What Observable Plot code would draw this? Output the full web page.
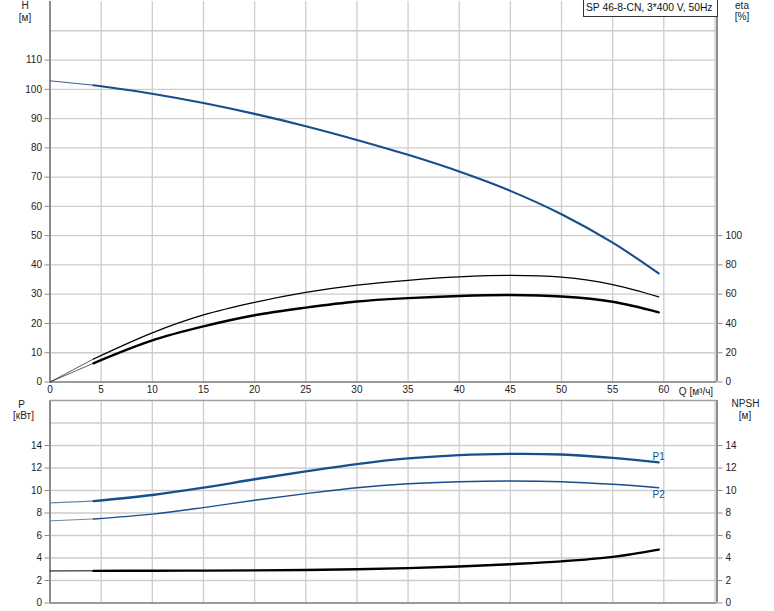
<!DOCTYPE html>
<html><head><meta charset="utf-8">
<script src="https://cdn.jsdelivr.net/npm/d3@7"></script>
<script src="https://cdn.jsdelivr.net/npm/@observablehq/plot@0.6"></script>
<style>
body{margin:0;background:#fff;font-family:"Liberation Sans",Arial,sans-serif;}
#chart{position:relative;width:774px;height:611px;overflow:hidden;background:#fff;}
#chart svg{position:absolute;left:0;overflow:visible;}
.lbl{position:absolute;font-size:10px;color:#222;white-space:nowrap;transform:translate(-50%,-50%);line-height:1;}
#legend{position:absolute;left:583px;top:-1px;width:131px;height:16px;border:1px solid #333;background:#fff;font-size:10.3px;line-height:16px;padding-left:2px;color:#111;white-space:nowrap;}
</style></head><body><div id="chart"></div>
<script>
// Flow rate samples [m³/h]
const Q = [0, 4.25, 10, 15, 20, 25, 30, 35, 40, 45, 50, 55, 59.5];
// Head H [m]
const H = [102.9, 101.4, 98.5, 95.3, 91.6, 87.4, 82.7, 77.6, 71.9, 65.3, 57.3, 47.6, 37.1];
// Efficiencies [%]
const etaThin = [0, 15.7, 33.6, 45.8, 54.4, 61.2, 66.2, 69.5, 71.8, 72.8, 71.6, 66.6, 58.2];
const etaThick = [0, 12.8, 28.4, 38.0, 45.6, 50.8, 55.0, 57.3, 58.8, 59.4, 58.4, 54.8, 47.6];
// Power [kW]
const P1 = [8.9, 9.05, 9.6, 10.25, 11.0, 11.7, 12.35, 12.85, 13.15, 13.25, 13.2, 12.9, 12.5];
const P2 = [7.3, 7.47, 7.9, 8.48, 9.13, 9.72, 10.25, 10.6, 10.78, 10.84, 10.78, 10.55, 10.25];
// NPSH [m]
const NPSH = [2.85, 2.86, 2.87, 2.88, 2.9, 2.93, 3.0, 3.1, 3.25, 3.45, 3.7, 4.1, 4.75];

const qTicks = [0, 5, 10, 15, 20, 25, 30, 35, 40, 45, 50, 55, 60];
const qGrid = [0, 5, 10, 15, 20, 25, 30, 35, 40, 45, 50, 55, 60, 65];
const hTicks = [0, 10, 20, 30, 40, 50, 60, 70, 80, 90, 100, 110];
const hGrid = [0, 10, 20, 30, 40, 50, 60, 70, 80, 90, 100, 110, 120];
const etaTicks = [0, 20, 40, 60, 80, 100];
const pTicks = [0, 2, 4, 6, 8, 10, 12, 14];
const pGrid = [0, 2, 4, 6, 8, 10, 12, 14, 16];
const qDomain = [0, 65.2], hDomain = [0, 130], pDomain = [0, 18];
const qSplit = 4.25;

const BLUE = "#154f8c", GRID = "#cdcdcd", AXIS = "#8c8c8c";
const CURVE = "catmull-rom";
const rows = ys => Q.map((q, i) => ({q, v: ys[i]}));
const head = ys => rows(ys).filter(d => d.q <= qSplit);
const tail = ys => rows(ys).filter(d => d.q >= qSplit);
const plotStyle = {fontFamily: '"Liberation Sans", Arial, sans-serif', fontSize: "10px", color: "#222", background: "transparent"};

const topPlot = Plot.plot({
  width: 774, height: 396,
  marginLeft: 49.5, marginRight: 57.5, marginTop: 1, marginBottom: 14.5,
  x: {domain: qDomain, label: null}, y: {domain: hDomain, label: null},
  style: plotStyle,
  marks: [
    Plot.gridX(qGrid, {stroke: GRID, strokeOpacity: 1, strokeWidth: 1.3}),
    Plot.gridY(hGrid, {stroke: GRID, strokeOpacity: 1, strokeWidth: 1.3}),
    Plot.axisX(qTicks, {tickSize: 0, tickPadding: 4, fontSize: 10, label: null}),
    Plot.axisY(hTicks, {anchor: "left", tickSize: 5, tickPadding: 3, stroke: AXIS, fontSize: 10, label: null}),
    Plot.axisY(etaTicks.map(e => e / 2), {anchor: "right", tickSize: 5, tickPadding: 3.5, stroke: AXIS, fontSize: 10, label: null, tickFormat: d => d * 2}),
    Plot.ruleX([qDomain[0]], {stroke: AXIS, strokeWidth: 2}),
    Plot.ruleX([qDomain[1]], {stroke: AXIS, strokeWidth: 2}),
    Plot.ruleY([0], {stroke: "#9a9a9a", strokeWidth: 2}),
    // efficiency curves (eta % plotted at half scale, right axis)
    Plot.line(head(etaThin), {x: "q", y: d => d.v / 2, stroke: "#333", strokeWidth: 0.8}),
    Plot.line(tail(etaThin), {x: "q", y: d => d.v / 2, stroke: "#000", strokeWidth: 1.3, curve: CURVE}),
    Plot.line(head(etaThick), {x: "q", y: d => d.v / 2, stroke: "#333", strokeWidth: 0.8}),
    Plot.line(tail(etaThick), {x: "q", y: d => d.v / 2, stroke: "#000", strokeWidth: 2.4, curve: CURVE}),
    // head curve
    Plot.line(head(H), {x: "q", y: "v", stroke: "#3a5f8a", strokeWidth: 1}),
    Plot.line(tail(H), {x: "q", y: "v", stroke: BLUE, strokeWidth: 2.1, curve: CURVE})
  ]
});
topPlot.style.top = "0px";

const bottomPlot = Plot.plot({
  width: 774, height: 215,
  marginLeft: 49.5, marginRight: 57.5, marginTop: 4, marginBottom: 8.5,
  x: {domain: qDomain, axis: null, label: null}, y: {domain: pDomain, label: null},
  style: plotStyle,
  marks: [
    Plot.gridX(qGrid, {stroke: GRID, strokeOpacity: 1, strokeWidth: 1.3}),
    Plot.gridY(pGrid, {stroke: GRID, strokeOpacity: 1, strokeWidth: 1.3}),
    Plot.axisY(pTicks, {anchor: "left", tickSize: 5, tickPadding: 3, stroke: AXIS, fontSize: 10, label: null}),
    Plot.axisY(pTicks, {anchor: "right", tickSize: 5, tickPadding: 3.5, stroke: AXIS, fontSize: 10, label: null}),
    Plot.ruleX([qDomain[0]], {stroke: AXIS, strokeWidth: 2}),
    Plot.ruleX([qDomain[1]], {stroke: AXIS, strokeWidth: 2}),
    Plot.ruleY([0], {stroke: "#9a9a9a", strokeWidth: 2}),
    Plot.ruleY([pDomain[1]], {stroke: "#a0a0a0", strokeWidth: 1.5}),
    // NPSH
    Plot.line(head(NPSH), {x: "q", y: "v", stroke: "#000", strokeWidth: 1}),
    Plot.line(tail(NPSH), {x: "q", y: "v", stroke: "#000", strokeWidth: 2.4, curve: CURVE}),
    // P2
    Plot.line(head(P2), {x: "q", y: "v", stroke: "#6d86a3", strokeWidth: 1}),
    Plot.line(tail(P2), {x: "q", y: "v", stroke: BLUE, strokeWidth: 1.4, curve: CURVE}),
    // P1
    Plot.line(head(P1), {x: "q", y: "v", stroke: "#6d86a3", strokeWidth: 1.2}),
    Plot.line(tail(P1), {x: "q", y: "v", stroke: BLUE, strokeWidth: 2.3, curve: CURVE}),
    Plot.text(tail(P1).slice(-1), {x: "q", y: "v", text: () => "P1", dy: -6, fill: BLUE, fontSize: 10}),
    Plot.text(tail(P2).slice(-1), {x: "q", y: "v", text: () => "P2", dy: 7, fill: BLUE, fontSize: 10})
  ]
});
bottomPlot.style.top = "396px";

const chart = document.getElementById("chart");
chart.append(topPlot, bottomPlot);
const labels = [
  ["H", 25, 6], ["[м]", 25, 17.5],
  ["eta", 742, 6], ["[%]", 742, 17],
  ["Q [м³/ч]", 696, 391.5],
  ["P", 21.5, 404.5], ["[кВт]", 23.5, 416],
  ["NPSH", 745.5, 404], ["[м]", 745, 416]
];
for (const [t, x, y] of labels) {
  const d = document.createElement("div");
  d.className = "lbl"; d.textContent = t;
  d.style.left = x + "px"; d.style.top = y + "px";
  chart.append(d);
}
const lg = document.createElement("div");
lg.id = "legend"; lg.textContent = "SP 46-8-CN, 3*400 V, 50Hz";
chart.append(lg);
</script></body></html>
